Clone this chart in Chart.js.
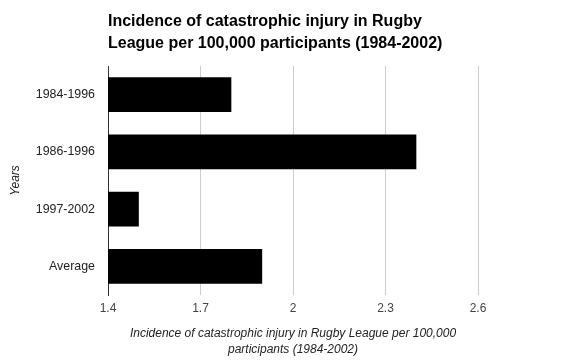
<!DOCTYPE html>
<html>
<head>
<meta charset="utf-8">
<script src="https://cdn.jsdelivr.net/npm/chart.js@4"></script>
<style>
html,body{margin:0;padding:0;background:#fff;}
#c{display:block;}
</style>
</head>
<body>
<canvas id="c" width="576" height="361"></canvas>
<script>
const categories = ["1984-1996", "1986-1996", "1997-2002", "Average"];
const incidence = [1.8, 2.4, 1.5, 1.9];
const xTicks = [1.4, 1.7, 2, 2.3, 2.6];
const titleLines = ["Incidence of catastrophic injury in Rugby", "League per 100,000 participants (1984-2002)"];
const xTitleLines = ["Incidence of catastrophic injury in Rugby League per 100,000", "participants (1984-2002)"];
const yTitle = "Years";

const FONT = "'Liberation Sans', Arial, sans-serif";

const titlePlugin = {
  id: 'titleText',
  afterDraw(chart) {
    const ctx = chart.ctx;
    ctx.save();
    ctx.fillStyle = '#000';
    ctx.font = 'bold 16px ' + FONT;
    ctx.textAlign = 'left';
    ctx.textBaseline = 'alphabetic';
    titleLines.forEach((t, i) => ctx.fillText(t, chart.chartArea.left, 26 + i * 22));
    ctx.restore();
  }
};

new Chart(document.getElementById('c'), {
  type: 'bar',
  data: {
    labels: categories,
    datasets: [{
      data: incidence,
      backgroundColor: '#000',
      borderWidth: 0,
      barPercentage: 0.61,
      categoryPercentage: 1
    }]
  },
  options: {
    indexAxis: 'y',
    responsive: false,
    devicePixelRatio: 1,
    animation: false,
    layout: { padding: { top: 66, right: 98, left: 0, bottom: 0 } },
    plugins: { legend: { display: false }, tooltip: { enabled: false }, title: { display: false } },
    scales: {
      x: {
        min: xTicks[0],
        max: xTicks[xTicks.length - 1],
        afterBuildTicks(scale) { scale.ticks = xTicks.map(v => ({ value: v })); },
        afterFit(scale) { scale.height = 66; },
        border: { display: false },
        grid: {
          drawTicks: false,
          color: ctx => ctx.index === 0 ? '#333' : '#ccc',
          lineWidth: 1
        },
        ticks: {
          padding: 6,
          color: '#444',
          font: { family: FONT, size: 12 },
          callback: (v) => String(v)
        },
        title: {
          display: true,
          text: xTitleLines,
          color: '#222',
          font: { family: FONT, size: 12, style: 'italic', lineHeight: 1.333 },
          padding: { top: 0, bottom: 3 }
        }
      },
      y: {
        afterFit(scale) { scale.width = 108; },
        border: { display: true, color: '#333', width: 1 },
        grid: { display: false, drawTicks: false },
        ticks: {
          padding: 13,
          color: '#222',
          font: { family: FONT, size: 12.4 }
        },
        title: {
          display: true,
          text: yTitle,
          color: '#222',
          font: { family: FONT, size: 12, style: 'italic' },
          padding: { top: 8, bottom: 0 }
        }
      }
    }
  },
  plugins: [titlePlugin]
});
</script>
</body>
</html>
